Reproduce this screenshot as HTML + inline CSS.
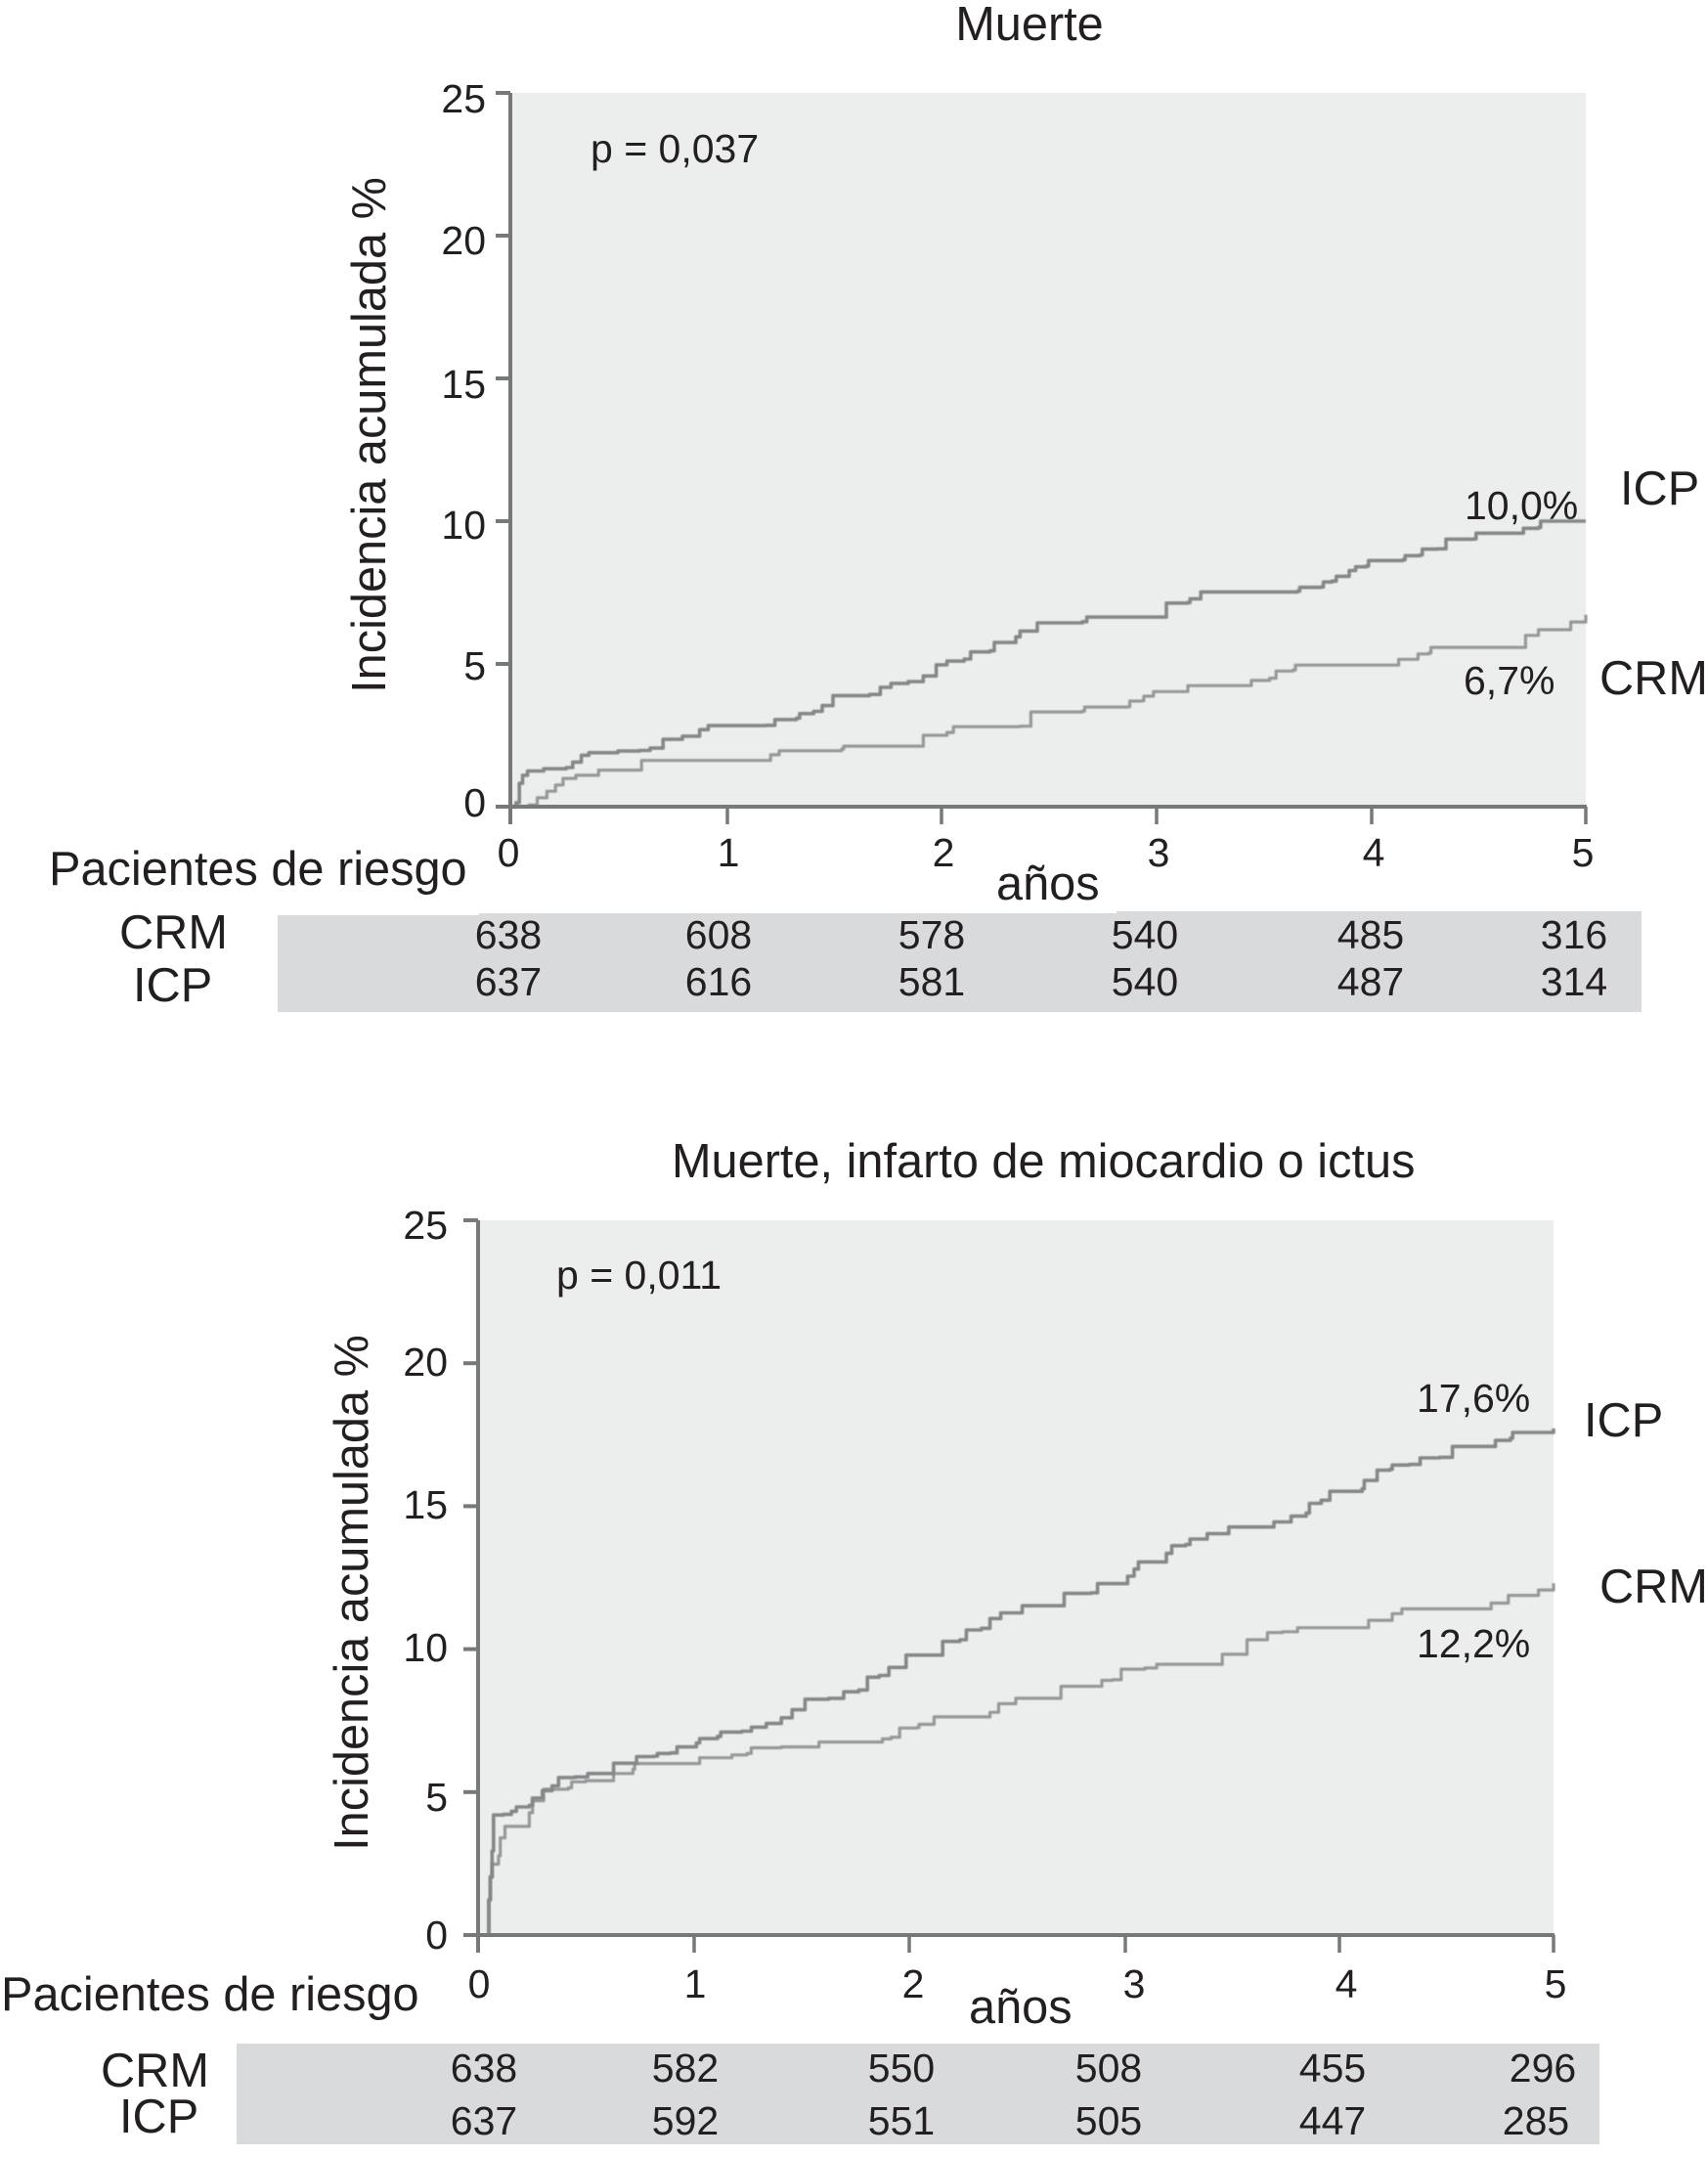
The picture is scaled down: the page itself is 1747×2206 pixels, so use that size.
<!DOCTYPE html>
<html lang="es">
<head>
<meta charset="utf-8">
<title>Incidencia acumulada</title>
<style>
html,body{margin:0;padding:0;background:#fff;width:1747px;height:2206px;overflow:hidden}
svg{display:block}
text{font-family:"Liberation Sans",sans-serif;fill:#231f20}
.big{font-size:48.7px}
.num{font-size:41px}
.curve{filter:blur(.5px)}
</style>
</head>
<body>
<svg id="figure" xmlns="http://www.w3.org/2000/svg" width="1747" height="2206" viewBox="0 0 1747 2206">
  <rect x="0" y="0" width="1747" height="2206" fill="#fff"/>

  <!-- Chart 1 -->
  <g id="chart1">
    <rect x="522" y="95" width="1100" height="730" fill="#eceeee"/>
    <text class="big" x="1053" y="41" text-anchor="middle">Muerte</text>
    <text class="num" x="604" y="166">p = 0,037</text>
    <text class="big" transform="translate(394 445) rotate(-90)" text-anchor="middle">Incidencia acumulada %</text>
    <text class="num" x="1498" y="531">10,0%</text>
    <text class="num" x="1497" y="710">6,7%</text>
    <text class="big" x="1657" y="516">ICP</text>
    <text class="big" x="1636" y="710">CRM</text>
    <text class="big" x="50" y="905">Pacientes de riesgo</text>
    <text class="big" x="1019" y="920">años</text>
    <g>
      <rect x="284" y="932" width="1395" height="103" fill="#d8dadc"/>
      <rect x="284" y="932" width="206" height="4" fill="#fff"/>
      <rect x="490" y="932" width="652" height="2" fill="#fff"/>
      <text class="big" x="122" y="970">CRM</text>
      <text class="big" x="136" y="1024">ICP</text>
      <g class="num" text-anchor="middle">
        <text x="520" y="970">638</text>
        <text x="735" y="970">608</text>
        <text x="953" y="970">578</text>
        <text x="1171" y="970">540</text>
        <text x="1402" y="970">485</text>
        <text x="1610" y="970">316</text>
      </g>
      <g class="num" text-anchor="middle">
        <text x="520" y="1018">637</text>
        <text x="735" y="1018">616</text>
        <text x="953" y="1018">581</text>
        <text x="1171" y="1018">540</text>
        <text x="1402" y="1018">487</text>
        <text x="1610" y="1018">314</text>
      </g>
    </g>
  </g>

  <!-- Chart 2 -->
  <g id="chart2">
    <rect x="489" y="1248" width="1100" height="731" fill="#eceeee"/>
    <text class="big" x="687" y="1204">Muerte, infarto de miocardio o ictus</text>
    <text class="num" x="569" y="1318">p = 0,011</text>
    <text class="big" transform="translate(376 1629) rotate(-90)" text-anchor="middle">Incidencia acumulada %</text>
    <text class="num" x="1449" y="1444">17,6%</text>
    <text class="num" x="1449" y="1695">12,2%</text>
    <text class="big" x="1620" y="1469">ICP</text>
    <text class="big" x="1636" y="1639">CRM</text>
    <text class="big" x="1" y="2056">Pacientes de riesgo</text>
    <text class="big" x="991" y="2069">años</text>
    <g>
      <rect x="242" y="2090" width="1394" height="103" fill="#d8dadc"/>
      <text class="big" x="103" y="2134">CRM</text>
      <text class="big" x="122" y="2181">ICP</text>
      <g class="num" text-anchor="middle">
        <text x="495" y="2129">638</text>
        <text x="701" y="2129">582</text>
        <text x="922" y="2129">550</text>
        <text x="1134" y="2129">508</text>
        <text x="1363" y="2129">455</text>
        <text x="1578" y="2129">296</text>
      </g>
      <g class="num" text-anchor="middle">
        <text x="495" y="2183">637</text>
        <text x="701" y="2183">592</text>
        <text x="922" y="2183">551</text>
        <text x="1134" y="2183">505</text>
        <text x="1363" y="2183">447</text>
        <text x="1571" y="2183">285</text>
      </g>
    </g>
  </g>
</svg>

<script>
// Shared tick labels
const yTickValues = [0, 5, 10, 15, 20, 25];
const xTickValues = [0, 1, 2, 3, 4, 5];

// Chart 1: Muerte
const deathIcpYears = [0,.027,.042,.057,.08,.155,.26,.29,.33,.365,.5,.6,.65,.71,.8,.88,.92,1.19,1.23,1.33,1.345,1.41,1.45,1.5,1.67,1.72,1.77,1.85,1.92,1.98,2.03,2.11,2.14,2.23,2.25,2.35,2.37,2.45,2.66,2.68,3.01,3.05,3.15,3.16,3.21,3.66,3.67,3.77,3.78,3.82,3.84,3.9,3.93,3.98,3.99,4.15,4.16,4.23,4.24,4.31,4.35,4.48,4.49,4.69,4.71,4.78,4.79,5];
const deathIcpPct = [0,.14,.82,1.1,1.25,1.33,1.37,1.56,1.8,1.89,1.95,1.97,2.05,2.36,2.47,2.7,2.84,2.85,3.05,3.1,3.26,3.34,3.54,3.89,3.93,4.18,4.32,4.38,4.58,4.97,5.1,5.17,5.42,5.46,5.75,5.95,6.15,6.44,6.48,6.64,6.64,7.13,7.15,7.28,7.52,7.55,7.68,7.7,7.87,7.9,8.07,8.27,8.4,8.43,8.62,8.65,8.79,8.82,9.02,9.03,9.37,9.38,9.58,9.58,9.75,9.78,10,10];
const deathCrmYears = [0,.087,.125,.17,.21,.245,.305,.41,.607,.61,1.165,1.21,1.25,1.54,1.55,1.865,1.92,2.03,2.06,2.37,2.42,2.66,2.67,2.87,2.88,2.935,2.945,2.99,3.12,3.15,3.43,3.445,3.53,3.56,3.64,3.65,4.1,4.13,4.21,4.22,4.27,4.28,4.67,4.72,4.77,4.78,4.92,4.93,4.99,5];
const deathCrmPct = [0,.06,.31,.54,.76,.99,1.1,1.28,1.28,1.62,1.62,1.82,1.96,2.02,2.12,2.12,2.5,2.6,2.8,2.82,3.32,3.35,3.49,3.5,3.7,3.71,3.87,4.03,4.03,4.24,4.24,4.42,4.5,4.75,4.79,4.96,4.96,5.16,5.16,5.35,5.38,5.58,5.58,6,6,6.2,6.2,6.47,6.47,6.72];

// Chart 2: Muerte, infarto de miocardio o ictus
const compositeIcpYears = [.047,.05,.057,.065,.072,.118,.155,.178,.238,.253,.299,.344,.374,.45,.51,.63,.63,.72,.737,.819,.834,.895,.925,1.015,1.03,1.113,1.128,1.226,1.271,1.34,1.41,1.46,1.52,1.63,1.7,1.77,1.81,1.865,1.91,1.99,2.14,2.16,2.24,2.27,2.34,2.38,2.43,2.53,2.68,2.725,2.85,2.88,3,3.02,3.05,3.07,3.18,3.2,3.225,3.29,3.31,3.39,3.39,3.48,3.49,3.68,3.7,3.78,3.85,3.865,3.92,3.96,4.11,4.12,4.18,4.24,4.25,4.33,4.38,4.47,4.53,4.7,4.73,4.8,4.81,4.98,5];
const compositeIcpPct = [.03,1.23,2.03,2.94,4.2,4.22,4.33,4.48,4.54,4.79,5.05,5.22,5.51,5.53,5.65,5.65,6.01,6.01,6.24,6.26,6.35,6.37,6.58,6.72,6.87,6.95,7.1,7.13,7.27,7.4,7.6,7.88,8.25,8.28,8.51,8.57,9.02,9.08,9.36,9.79,9.79,10.27,10.33,10.67,10.73,11.07,11.27,11.52,11.52,11.95,11.97,12.29,12.29,12.55,12.8,13.05,13.05,13.35,13.62,13.66,13.85,13.85,14.04,14.04,14.27,14.27,14.45,14.65,14.76,15.1,15.21,15.52,15.61,15.9,16.26,16.29,16.44,16.46,16.69,16.71,17.09,17.09,17.3,17.38,17.58,17.58,17.72];
const compositeCrmYears = [.047,.05,.057,.065,.095,.103,.125,.178,.238,.253,.305,.36,.42,.435,.5,.63,.685,.72,.728,1.025,1.03,1.165,1.18,1.25,1.27,1.41,1.575,1.585,1.865,1.88,1.92,1.96,2.04,2.05,2.1,2.12,2.32,2.38,2.42,2.5,2.68,2.71,2.865,2.9,2.95,2.99,3.1,3.155,3.45,3.46,3.505,3.575,3.66,3.67,3.74,3.81,4.12,4.14,4.24,4.25,4.295,4.69,4.71,4.78,4.79,4.92,4.93,5];
const compositeCrmPct = [0,1.23,2.03,2.48,2.77,3.4,3.8,3.8,4.28,4.7,5.1,5.1,5.15,5.36,5.4,5.65,5.65,5.8,6,6,6.2,6.2,6.3,6.35,6.55,6.58,6.58,6.75,6.75,6.86,6.92,7.24,7.26,7.37,7.37,7.63,7.63,7.79,8.09,8.28,8.28,8.7,8.7,8.91,8.93,9.3,9.34,9.47,9.47,9.82,9.82,10.33,10.33,10.58,10.61,10.75,10.75,11.01,11.01,11.24,11.41,11.41,11.61,11.61,11.88,11.88,12.07,12.3];

const SVG_NS = 'http://www.w3.org/2000/svg';

function makeEl(tag, parent, props) {
  const el = document.createElementNS(SVG_NS, tag);
  for (const k in props) el.setAttribute(k, props[k]);
  parent.appendChild(el);
  return el;
}

function stepPath(years, pct, sx, sy) {
  let d = 'M' + sx(years[0]).toFixed(1) + ' ' + sy(pct[0]).toFixed(1);
  for (let i = 1; i < years.length; i++) {
    d += 'H' + sx(years[i]).toFixed(1) + 'V' + sy(pct[i]).toFixed(1);
  }
  return d;
}

function drawChart(root, cfg) {
  const sx = function (v) { return cfg.x0 + v * (cfg.x5 - cfg.x0) / 5; };
  const sy = function (v) { return cfg.y0 - v * (cfg.y0 - cfg.y25) / 25; };
  const labelY = function (v) { return cfg.label0 - v * cfg.labelStep; };
  const axisColor = '#76787a';

  const crmLine = makeEl('path', root, { d: stepPath(cfg.crmYears, cfg.crmPct, sx, sy), fill: 'none', stroke: '#96989a', 'stroke-width': 3.2, 'stroke-linejoin': 'round', class: 'curve' });
  
  

  const icpLine = makeEl('path', root, { d: stepPath(cfg.icpYears, cfg.icpPct, sx, sy), fill: 'none', stroke: '#858789', 'stroke-width': 3.6, 'stroke-linejoin': 'round', class: 'curve' });
  
  

  const yAxis = makeEl('line', root, { x1: cfg.x0, x2: cfg.x0, y1: cfg.y25, y2: cfg.y0 + 18, stroke: axisColor, 'stroke-width': 4 });
  
  

  const xAxis = makeEl('line', root, { x1: cfg.x0 - 15, x2: cfg.x5 + 1, y1: cfg.y0, y2: cfg.y0, stroke: axisColor, 'stroke-width': 4 });
  
  

  yTickValues.forEach(function (v, i) {
    const tick = makeEl('line', root, { x1: cfg.x0 - 15, x2: cfg.x0, y1: sy(v), y2: sy(v), stroke: axisColor, 'stroke-width': 4 });
    
    
    const label = makeEl('text', root, { x: cfg.yLabelX, y: labelY(v) + cfg.yLabelNudge[i], 'text-anchor': 'end', class: 'num' });
    
    
    label.textContent = String(v);
  });

  xTickValues.forEach(function (v, i) {
    const tx = sx(v) + cfg.xTickNudge[i];
    const tick = makeEl('line', root, { x1: tx, x2: tx, y1: cfg.y0, y2: cfg.y0 + 18, stroke: axisColor, 'stroke-width': 3.5 });
    
    
    const label = makeEl('text', root, { x: sx(v) + cfg.xLabelNudge[i], y: cfg.xLabelY, 'text-anchor': 'middle', class: 'num' });
    
    
    label.textContent = String(v);
  });
}

drawChart(document.getElementById('chart1'), {
  x0: 522, x5: 1622, y0: 825, y25: 95,
  label0: 835, labelStep: 28.8, yLabelX: 497, xLabelY: 886,
  yLabelNudge: [0, 4, 4, 4, 1, 0],
  xLabelNudge: [-2, 3, 3, 3, 3, -3],
  xTickNudge: [0, 2, 1, 1, 1, 0],
  icpYears: deathIcpYears, icpPct: deathIcpPct, crmYears: deathCrmYears, crmPct: deathCrmPct
});

drawChart(document.getElementById('chart2'), {
  x0: 489, x5: 1589, y0: 1979, y25: 1248,
  label0: 1992, labelStep: 29, yLabelX: 458, xLabelY: 2043,
  yLabelNudge: [1, 5, -3, -4, -5, 0],
  xLabelNudge: [1, 2, 5, 11, 8, 2],
  xTickNudge: [0, 1, 1, 2, 1, 0],
  icpYears: compositeIcpYears, icpPct: compositeIcpPct, crmYears: compositeCrmYears, crmPct: compositeCrmPct
});
</script>
</body>
</html>
